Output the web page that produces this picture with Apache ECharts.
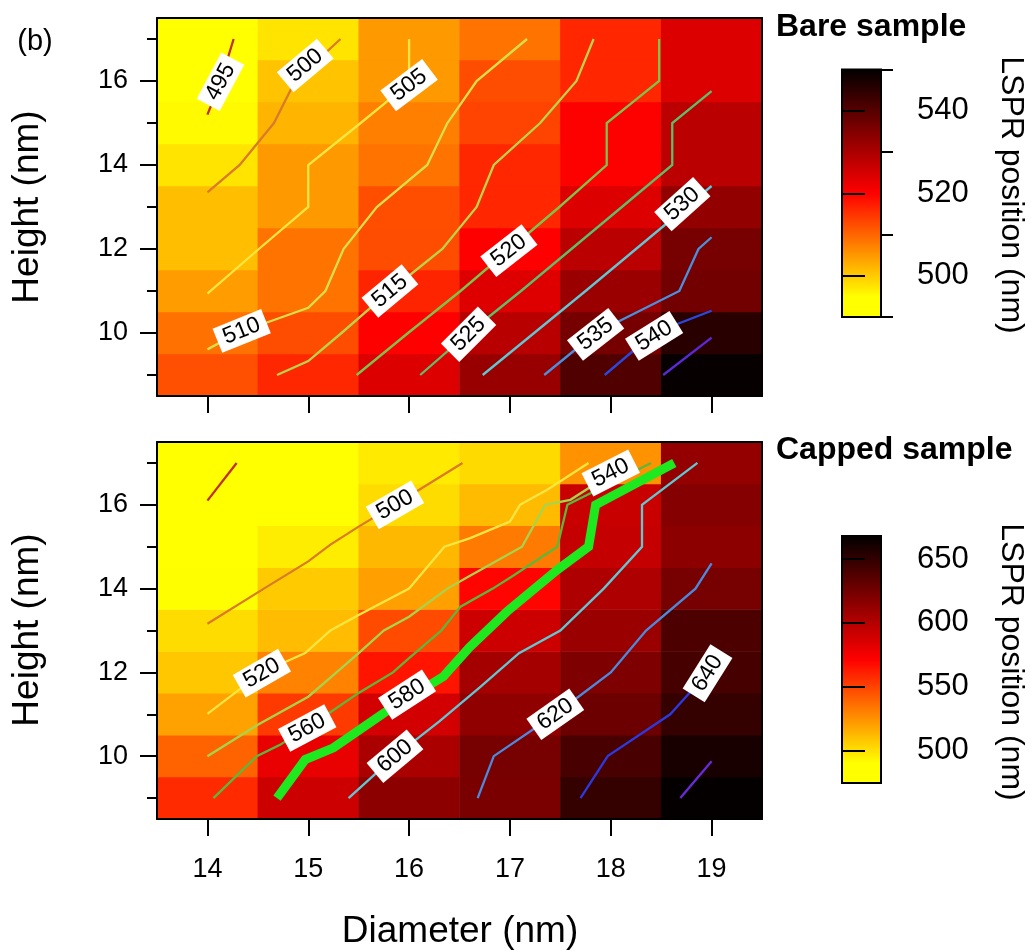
<!DOCTYPE html>
<html>
<head>
<meta charset="utf-8">
<script src="https://cdn.jsdelivr.net/npm/echarts@6/dist/echarts.min.js"></script>
<style>
html,body{margin:0;padding:0;background:#fff;}
#chart{width:1032px;height:951px;}
</style>
</head>
<body>
<div id="chart"></div>
<script>
// ---------------- data ----------------
const diameters = [14, 15, 16, 17, 18, 19];
const heights = [9, 10, 11, 12, 13, 14, 15, 16, 17];

// LSPR position (nm), rows = heights 9..17, columns = diameters 14..19
const bareLSPR = [
  [512.3, 516.2, 524.1, 532.2, 540.5, 549.2],
  [508.9, 512.5, 520.1, 528.2, 536.2, 545.2],
  [504.7, 508.7, 516.5, 523.8, 531.9, 536.5],
  [501.3, 508.6, 512.5, 520.0, 528.1, 536.1],
  [501.3, 505.0, 512.4, 516.3, 524.0, 532.8],
  [497.6, 505.0, 508.6, 516.2, 520.2, 528.1],
  [495.5, 502.3, 507.5, 513.4, 520.2, 528.1],
  [494.1, 500.9, 505.0, 512.5, 516.3, 524.0],
  [494.1, 497.6, 505.0, 508.7, 516.3, 524.0]
];
const cappedLSPR = [
  [558.0, 590.0, 615.0, 622.0, 648.0, 666.0],
  [540.0, 579.5, 603.5, 623.0, 640.5, 659.0],
  [520.0, 553.0, 588.0, 613.0, 627.0, 648.0],
  [508.3, 530.0, 565.0, 605.3, 620.0, 641.0],
  [501.7, 511.7, 547.6, 590.2, 609.8, 639.0],
  [491.0, 507.0, 521.0, 570.0, 602.0, 623.0],
  [487.0, 496.3, 513.2, 532.7, 593.3, 615.0],
  [480.3, 490.0, 501.6, 512.0, 592.0, 617.8],
  [476.0, 490.0, 497.4, 502.3, 525.0, 612.0]
];

const bareRange = [490, 550];
const cappedRange = [474.5, 668];

// colour map (low -> high), evenly spaced over the range
const hotColors = ['#ffff00','#ffff00','#ffcc00','#ff9900','#ff6600','#ff3300','#ff0000',
                   '#d40000','#aa0000','#800000','#550000','#2b0000','#000000'];

// tick values
const xTicks = [14, 15, 16, 17, 18, 19];
const yMajor = [10, 12, 14, 16];
const yMinor = [9, 11, 13, 15, 17];
const bareBarMajor = [500, 520, 540];
const bareBarMinor = [490, 510, 530, 550];
const cappedBarMajor = [500, 550, 600, 650];

// contour lines (bare sample)
const bareLevels = [495, 500, 505, 510, 515, 520, 525, 530, 535, 540, 545];
const bareLineColors = ['#c0302a','#d97b2b','#f5e642','#d4e04a','#b8d44a','#7cc44a',
                        '#5cbf6a','#5ec8d4','#4a90e0','#2a48e0','#5a2ad8'];
const bareContours = [
  [[14.0,15.2],[14.13,15.98],[14.26,17]],
  [[14,13.35],[14.32,14],[14.66,15],[14.87,16],[15.32,17]],
  [[14,10.94],[14.51,12],[15,13],[15,14],[15.52,15],[15.8,15.55],[16,16.1],[16,17]],
  [[14,9.61],[14.3,10],[14.59,10.25],[15,10.6],[15.17,11],[15.35,12],[15.68,13],[16.18,14],[16.38,15],[16.67,16],[17.17,17]],
  [[14.69,9],[15,9.33],[15.33,10],[15.81,11],[16.33,12],[16.67,13],[16.84,14],[17.3,15],[17.66,16],[17.83,17]],
  [[15.48,9],[15.99,10],[16.51,11],[17,12],[17.49,13],[17.96,14],[17.96,15],[18.48,16],[18.48,17]],
  [[16.11,9],[16.59,10],[17.11,11],[17.61,12],[18.11,13],[18.61,14],[18.61,15],[19,15.76]],
  [[16.73,9],[17.24,10],[17.75,11],[18.25,12],[18.75,13],[19,13.5]],
  [[17.34,9],[17.85,10],[18.68,11],[18.87,12],[19,12.28]],
  [[17.94,9],[18.43,10],[19,10.53]],
  [[18.52,9],[19,9.89]]
];
// contour labels: [diameter, height, text, angle]
const bareLabels = [
  [14.13,15.98,'495',62],[14.97,16.37,'500',40],[16.0,15.9,'505',37],[14.34,10.05,'510',22],
  [15.81,11.0,'515',40],[16.99,11.96,'520',38],[16.59,9.97,'525',45],[18.71,13.07,'530',42],
  [17.85,9.97,'535',38],[18.43,9.93,'540',32]
];

// contour lines (capped sample)
const cappedLevels = [480, 500, 520, 540, 560, 580, 600, 620, 640, 660];
const cappedLineColors = ['#c0302a','#d97b2b','#f5e642','#a8d44a','#5cb83a','#1ee81e',
                          '#5ec8d4','#4a8ae0','#2a3ae0','#6a2ad8'];
const cappedLineWidths = [2.3, 2.3, 2.3, 2.3, 2.3, 9, 2.3, 2.3, 2.3, 2.3];
const cappedContours = [
  [[14,16.1],[14.29,17]],
  [[14,13.16],[14.56,14],[15,14.65],[15.22,15.05],[15.5,15.48],[15.86,16],[16.53,17]],
  [[14,11.01],[14.54,12],[14.97,12.46],[15.22,13],[15.5,13.37],[16,14],[16.35,15],[16.6,15.2],[17,15.6],[17.1,16],[17.37,16.36],[17.78,17]],
  [[14,10],[14.5,10.75],[15,11.42],[15.28,12],[15.5,12.46],[15.75,13],[16,13.33],[16.38,14],[16.6,14.3],[17.12,15],[17.35,16],[17.6,16.12],[18.17,17]],
  [[14.06,9],[14.49,10],[14.72,10.27],[15.19,11],[15.5,11.51],[15.84,12],[16,12.34],[16.32,13],[16.51,13.57],[16.83,14],[17.02,14.29],[17.47,15],[17.57,16],[18.4,17]],
  [[14.69,9],[14.97,9.92],[15.25,10.2],[15.75,11.03],[16.34,11.9],[16.6,12.6],[16.97,13.45],[17.47,14.45],[17.78,15],[17.85,16],[18.63,17]],
  [[15.4,9],[15.86,10],[16.3,10.83],[16.71,11.66],[17.09,12.46],[17.5,13],[17.93,14],[18.31,15],[18.31,16],[18.86,17]],
  [[16.68,9],[16.84,10],[17.45,11],[18,12],[18.35,13],[18.84,14],[19,14.6]],
  [[17.7,9],[17.97,10],[18.59,11],[19,12.1]],
  [[18.69,9],[19,9.88]]
];
const cappedLabels = [
  [15.86,16.0,'500',30],[14.54,11.98,'520',30],[18.0,16.76,'540',27],[14.99,10.67,'560',28],
  [15.98,11.47,'580',33],[15.86,10.0,'600',40],[17.45,11.0,'620',35],[18.96,11.98,'640',58]
];

// ---------------- build ----------------
const FONT = 'Liberation Sans, Arial, Helvetica, sans-serif';
const chart = echarts.init(document.getElementById('chart'), null, {renderer: 'canvas'});

function toCells(grid) {
  const out = [];
  grid.forEach((row, i) => row.forEach((v, j) => out.push([j, i, v])));
  return out;
}

const black2 = {color: '#000', width: 2};

const grids = [
  {left: 157, top: 18, width: 605, height: 378},   // 0 bare heatmap
  {left: 157, top: 18, width: 605, height: 378},   // 1 bare lines/axes
  {left: 157, top: 442, width: 605, height: 377},  // 2 capped heatmap
  {left: 157, top: 442, width: 605, height: 377},  // 3 capped lines/axes
  {left: 842, top: 69.5, width: 39, height: 247.5},// 4 bare colour bar
  {left: 842, top: 536, width: 39, height: 247}    // 5 capped colour bar
];

function catAxis(gridIndex, data) {
  return {type: 'category', gridIndex, data: data.map(String), show: false};
}
function valX(gridIndex, position, ticks, showLabels) {
  return {
    type: 'value', gridIndex, position, min: 13.5, max: 19.5, z: 10,
    axisLine: {show: true, onZero: false, lineStyle: black2},
    axisTick: {show: !!ticks, inside: false, length: 17, lineStyle: black2, customValues: ticks || undefined},
    axisLabel: {show: !!showLabels, customValues: ticks || undefined, fontSize: 27, color: '#000',
                fontFamily: FONT, margin: 37},
    splitLine: {show: false}
  };
}
function valY(gridIndex, position, ticks, len, showLabels, showLine) {
  return {
    type: 'value', gridIndex, position, min: 8.5, max: 17.5, z: 10,
    axisLine: {show: !!showLine, onZero: false, lineStyle: black2},
    axisTick: {show: !!ticks, inside: false, length: len, lineStyle: black2, customValues: ticks || undefined},
    axisLabel: {show: !!showLabels, customValues: ticks || undefined, fontSize: 27, color: '#000',
                fontFamily: FONT, margin: 29},
    splitLine: {show: false}
  };
}
function barY(gridIndex, range, ticks, len, showLabels) {
  return {
    type: 'value', gridIndex, position: 'right', min: range[0], max: range[1], z: 10,
    axisLine: {show: false},
    axisTick: {show: true, inside: false, length: len, lineStyle: black2, customValues: ticks},
    axisLabel: {show: !!showLabels, customValues: ticks, fontSize: 31, color: '#000',
                fontFamily: FONT, margin: 36},
    splitLine: {show: false}
  };
}

const xAxes = [
  catAxis(0, diameters),                 // 0
  valX(1, 'bottom', xTicks, false),      // 1
  valX(1, 'top', null, false),           // 2
  catAxis(2, diameters),                 // 3
  valX(3, 'bottom', xTicks, true),       // 4
  valX(3, 'top', null, false),           // 5
  {type: 'value', gridIndex: 4, min: 0, max: 1, show: false}, // 6
  {type: 'value', gridIndex: 5, min: 0, max: 1, show: false}  // 7
];
const yAxes = [
  catAxis(0, heights),                   // 0
  valY(1, 'left', yMajor, 17, true, true),   // 1
  valY(1, 'left', yMinor, 10, false, false), // 2
  valY(1, 'right', null, 0, false, true),    // 3
  catAxis(2, heights),                   // 4
  valY(3, 'left', yMajor, 17, true, true),   // 5
  valY(3, 'left', yMinor, 10, false, false), // 6
  valY(3, 'right', null, 0, false, true),    // 7
  barY(4, bareRange, bareBarMajor, 23, true),   // 8
  barY(4, bareRange, bareBarMinor, 12, false),  // 9
  barY(5, cappedRange, cappedBarMajor, 23, true) // 10
];

const series = [];
series.push({type: 'heatmap', xAxisIndex: 0, yAxisIndex: 0, data: toCells(bareLSPR), z: 1,
             silent: true, emphasis: {disabled: true}, progressive: 0});
series.push({type: 'heatmap', xAxisIndex: 3, yAxisIndex: 4, data: toCells(cappedLSPR), z: 1,
             silent: true, emphasis: {disabled: true}, progressive: 0});

function addContours(levels, lines, colors, widths, xi, yi) {
  lines.forEach((pts, k) => {
    series.push({
      type: 'line', name: String(levels[k]), xAxisIndex: xi, yAxisIndex: yi, data: pts,
      symbol: 'none', showSymbol: false, silent: true, z: 3,
      lineStyle: {color: colors[k], width: widths ? widths[k] : 2.3, cap: 'butt', join: 'miter'}
    });
  });
}
addContours(bareLevels, bareContours, bareLineColors, null, 1, 1);
addContours(cappedLevels, cappedContours, cappedLineColors, cappedLineWidths, 4, 5);

function addLabels(labels, xi, yi) {
  series.push({
    type: 'scatter', xAxisIndex: xi, yAxisIndex: yi, symbolSize: 1, silent: true, z: 4,
    itemStyle: {color: '#fff', opacity: 1},
    label: {show: true, position: 'inside', formatter: '{b}', color: '#000', fontSize: 23,
            fontFamily: FONT, backgroundColor: '#fff', padding: [2, 7, 1, 7]},
    data: labels.map(l => ({name: l[2], value: [l[0], l[1]], label: {rotate: l[3]}}))
  });
}
addLabels(bareLabels, 1, 1);
addLabels(cappedLabels, 4, 5);

const gradStops = hotColors.slice().reverse().map((c, i, a) => ({offset: i / (a.length - 1), color: c}));
function colorbarItem(params, api) {
  const pTop = api.coord([0, api.value(2)]);
  const pBot = api.coord([1, api.value(1)]);
  return {
    type: 'rect',
    shape: {x: pTop[0], y: pTop[1], width: pBot[0] - pTop[0], height: pBot[1] - pTop[1]},
    style: {fill: new echarts.graphic.LinearGradient(0, 0, 0, 1, gradStops), stroke: '#000', lineWidth: 2}
  };
}
series.push({type: 'custom', xAxisIndex: 6, yAxisIndex: 8, renderItem: colorbarItem, silent: true,
             clip: false, data: [[0, bareRange[0], bareRange[1]]], z: 2});
series.push({type: 'custom', xAxisIndex: 7, yAxisIndex: 10, renderItem: colorbarItem, silent: true,
             clip: false, data: [[0, cappedRange[0], cappedRange[1]]], z: 2});

function txt(text, x, y, size, opts) {
  opts = opts || {};
  return {
    type: 'text', x, y, rotation: opts.rot || 0, z: 20, silent: true,
    style: {text, fill: '#000', fontSize: size, fontFamily: FONT, fontWeight: opts.bold ? 'bold' : 'normal',
            textAlign: opts.align || 'center', textVerticalAlign: 'middle'}
  };
}

const option = {
  animation: false,
  backgroundColor: '#fff',
  grid: grids,
  xAxis: xAxes,
  yAxis: yAxes,
  visualMap: [
    {type: 'continuous', show: false, seriesIndex: 0, dimension: 2, min: bareRange[0], max: bareRange[1],
     inRange: {color: hotColors}},
    {type: 'continuous', show: false, seriesIndex: 1, dimension: 2, min: cappedRange[0], max: cappedRange[1],
     inRange: {color: hotColors}}
  ],
  graphic: [
    txt('(b)', 35, 42, 29),
    txt('Bare sample', 776, 27, 32, {bold: true, align: 'left'}),
    txt('Capped sample', 776, 450, 32, {bold: true, align: 'left'}),
    txt('LSPR position (nm)', 1011, 195, 32, {rot: -Math.PI / 2}),
    txt('LSPR position (nm)', 1011, 662, 32, {rot: -Math.PI / 2}),
    txt('Height (nm)', 28, 207, 37, {rot: Math.PI / 2}),
    txt('Height (nm)', 28, 630, 37, {rot: Math.PI / 2}),
    txt('Diameter (nm)', 460, 932, 37)
  ],
  series
};
chart.setOption(option);
</script>
</body>
</html>
